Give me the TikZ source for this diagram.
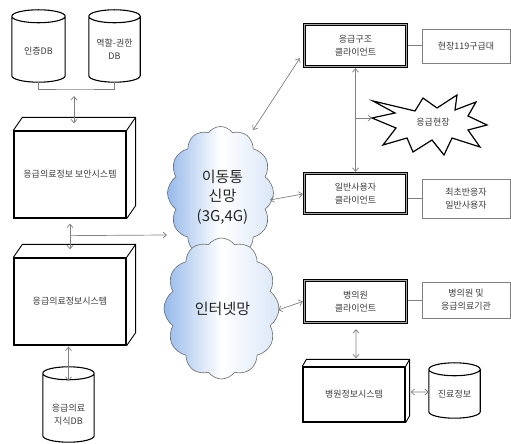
\documentclass[tikz,border=0pt]{standalone}
\usepackage{fontspec}
\setmainfont{Noto Sans CJK KR}
\usetikzlibrary{shapes.symbols,arrows.meta,calc}
\definecolor{cloudblue}{RGB}{150,185,235}
\definecolor{txt}{RGB}{60,60,60}
\definecolor{conn}{RGB}{128,128,128}
\newcommand{\drawcyl}[2]{%
  \path[dbline] let \p1=(#1.north west), \p2=(#1.south east), \n1={(\x2-\x1)/2} in
    (\x1,\y1-#2pt) -- (\x1,\y2+#2pt) arc[start angle=180, end angle=360, x radius=\n1, y radius=#2pt]
    -- (\x2,\y1-#2pt) arc[start angle=0, end angle=180, x radius=\n1, y radius=#2pt] -- cycle
    (\x1,\y1-#2pt) arc[start angle=180, end angle=360, x radius=\n1, y radius=#2pt];}
\newcommand{\drawdepth}[3]{%
  \draw[backline] (#1.north west) -- ++(#2,#3) -- ($(#1.north east)+(#2,#3)$)
    -- ($(#1.south east)+(#2,#3)$) -- (#1.south east)
    (#1.north east) -- ++(#2,#3);}
\begin{document}
\begin{tikzpicture}[x=1bp,y=1bp,
  txtf/.style={font=\fontsize{9bp}{13bp}\selectfont, text=txt, align=center},
  box3d/.style={txtf, draw=black, line width=1.3pt, fill=white, inner sep=0},
  backline/.style={draw=black, line width=0.9pt},
  client/.style={txtf, draw=black, line width=1.2pt, double=gray!70, double distance=1pt, fill=white, outer sep=1.7pt, inner sep=0},
  tagbox/.style={txtf, draw=gray, line width=0.8pt, fill=white, inner sep=0},
  netcloud/.style={cloud, cloud puffs=12, cloud puff arc=110, cloud ignores aspect, draw=gray!85!black, line width=0.6pt, left color=cloudblue, right color=cloudblue!35!white, middle color=white, inner sep=0},
  cloudtxt/.style={font=\fontsize{15bp}{19.5bp}\selectfont, text=black!85, align=center},
  cylbox/.style={inner sep=0},
  dbline/.style={draw=black, line width=1.1pt, fill=white},
  gline/.style={draw=conn, line width=0.7pt},
  darrow/.style={gline, {Straight Barb[length=3.5bp,width=6bp]}-{Straight Barb[length=3.5bp,width=6bp]}},
  sarrow/.style={gline, -{Straight Barb[length=3.5bp,width=6bp]}}
]
\fill[white] (0,0) rectangle (511,444);
\useasboundingbox (0,0) rectangle (511,444);

% clouds
\node[netcloud, minimum width=106bp, minimum height=133bp] (cloud1) at (220.5,251) {};
\node[cloudtxt] (cloud1t) at ($(cloud1.center)+(2,-4)$) {이동통\\신망\\(3G,4G)};
\node[netcloud, minimum width=115bp, minimum height=141bp] (cloud2) at (221.5,135.5) {};
\node[cloudtxt] (cloud2t) at ($(cloud2.center)+(1,0)$) {인터넷망};

% databases
\node[cylbox, minimum width=53bp, minimum height=72bp] (db1) at (38.5,398) {};
\drawcyl{db1}{6.5}
\node[txtf] (db1t) at ($(db1.center)+(0,-5)$) {인증DB};
\node[cylbox, minimum width=51bp, minimum height=72bp] (db2) at (114.5,398) {};
\drawcyl{db2}{6.5}
\node[txtf] (db2t) at ($(db2.center)+(0,-3.5)$) {역할-권한\\DB};
\node[cylbox, minimum width=51bp, minimum height=75bp] (db3) at (68.5,39.5) {};
\drawcyl{db3}{6.5}
\node[txtf] (db3t) at ($(db3.center)+(0,-10)$) {응급의료\\지식DB};
\node[cylbox, minimum width=51bp, minimum height=55bp] (db4) at (454.5,53.5) {};
\drawcyl{db4}{6.5}
\node[txtf] (db4t) at ($(db4.center)+(0,-4)$) {진료정보};

% 3D boxes
\node[box3d, minimum width=112bp, minimum height=87bp] (box1) at (70,269.5) {응급의료정보 보안시스템};
\drawdepth{box1}{9}{13}
\node[box3d, minimum width=112bp, minimum height=87bp] (box2) at (70,142.5) {응급의료정보시스템};
\drawdepth{box2}{9}{13}
\node[box3d, minimum width=102bp, minimum height=55bp] (box3) at (354,49.5) {병원정보시스템};
\drawdepth{box3}{4}{7}

% star
\draw[line width=1.2pt, fill=white] (373,343) -- (415,333) -- (423,346) -- (437,336) -- (457,349)
  -- (455,334) -- (476,342) -- (468,328) -- (487,319) -- (468,314) -- (480,297) -- (452,306)
  -- (444,289) -- (432,304) -- (413,292) -- (407,306) -- (383,299) -- (396,316) -- (372,326)
  -- (395,331) -- cycle;
\coordinate (stl) at (372,326);
\node[txtf] (star) at (433,322) {응급현장};

% clients and tags
\node[client, minimum width=102bp, minimum height=42bp] (c1) at (355.5,398.5) {응급구조\\클라이언트};
\node[tagbox, minimum width=88bp, minimum height=34bp] (t1) at (466,398) {현장119구급대};
\node[client, minimum width=102bp, minimum height=40bp] (c2) at (355.5,250.5) {일반사용자\\클라이언트};
\node[tagbox, minimum width=88bp, minimum height=39bp] (t2) at (466,245.5) {최초반응자\\일반사용자};
\node[client, minimum width=102bp, minimum height=42bp] (c3) at (355.5,142.5) {병의원\\클라이언트};
\node[tagbox, minimum width=88bp, minimum height=36bp] (t3) at (466,144) {병의원 및\\응급의료기관};

% connectors left
\coordinate (j1) at (74,355);
\draw[gline] (db1.south) |- (j1) -| (db2.south);
\draw[darrow] ($(j1)+(0,-7)$) -- ($(box1.north)+(4,7)$);
\draw[darrow] ($(box1.south)+(0,-5)$) -- ($(box2.north)+(0,8)$);
\coordinate (br1) at ($(box1.south)+(0,-17)$);
\draw[sarrow] (br1) -- (167,209);
\draw[darrow] ($(box2.south -| db3.north)+(0,-1)$) -- ($(db3.north)+(0,-14)$);

% connectors right
\draw[darrow] ($(cloud1.center)+(32.5,63)$) -- ($(c1.south west)+(-3,10)$);
\draw[darrow] (c1.south) -- (c2.north);
\draw[sarrow] (c1.south |- stl) -- (stl);
\draw[darrow] ($(cloud1.center)+(49.5,-7)$) -- ($(c2.west)+(0,-0.5)$);
\draw[darrow] ($(cloud2.center)+(56.5,-1.5)$) -- (c3.west);
\draw[gline] (c1.east) -- (c1.east -| t1.west);
\draw[gline] (t2.west -| c2.east) -- (t2.west);
\draw[gline] (t3.west -| c3.east) -- (t3.west);
\draw[darrow] ($(c3.south)+(0.5,-5)$) -- ($(box3.north)+(2,8)$);
\draw[darrow] ($(box3.east)+(5,2.5)$) -- ($(db4.west)+(0,-1.5)$);
\end{tikzpicture}
\end{document}
